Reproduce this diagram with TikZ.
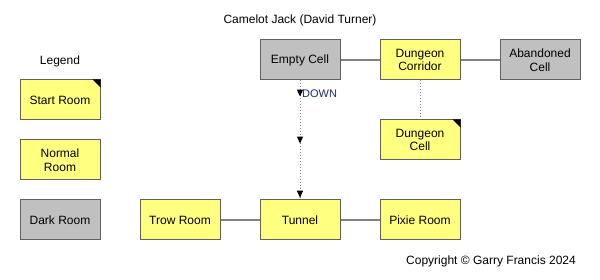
\documentclass[tikz,border=0pt]{standalone}
\usepackage{fontspec}
\setmainfont{Liberation Sans}
\usetikzlibrary{arrows.meta,decorations.markings}
\definecolor{roomyellow}{HTML}{FFFF80}
\definecolor{roomgray}{HTML}{C0C0C0}
\definecolor{roomborder}{HTML}{606060}
\definecolor{linkgray}{HTML}{808080}
\definecolor{downblue}{HTML}{1A2E70}
\tikzset{
  room/.style={draw=roomborder, line width=1pt, minimum width=80pt, minimum height=40pt,
    inner sep=0pt, align=center, font=\fontsize{12}{13.8}\selectfont},
  yroom/.style={room, fill=roomyellow},
  groom/.style={room, fill=roomgray},
  cornermark/.style={fill=black},
  link/.style={draw=linkgray, line width=1.2pt},
  dotlink/.style={draw=linkgray, line width=1pt, dotted},
  lbl/.style={font=\fontsize{12}{14}\selectfont, inner sep=0pt},
  downtip/.style={decoration={markings,
    mark=at position 0.135 with {\arrow[black]{Triangle[width=6pt,length=7pt]}},
    mark=at position 0.53 with {\arrow[black]{Triangle[width=6pt,length=7pt]}},
    mark=at position 0.985 with {\arrow[black]{Triangle[width=6pt,length=7pt]}}},
    postaction={decorate}}
}
\begin{document}
\begin{tikzpicture}[x=1pt,y=-1pt]
\useasboundingbox (0,0) rectangle (600,280);
\fill[white] (0,0) rectangle (600,280);
% titles
\node[lbl] (title) at (300,20) {Camelot Jack (David Turner)};
\node[lbl] (legend) at (60,61) {Legend};
\node[lbl, anchor=east] (copy) at (576,261) {Copyright © Garry Francis 2024};
% legend
\node[yroom] (ls) at (60,100) {Start Room};
\node[yroom] (ln) at (60,160) {Normal\\Room};
\node[groom] (ld) at (60,220) {Dark Room};
% rooms
\node[groom] (empty) at (300,60) {Empty Cell};
\node[yroom] (corr) at (420,60) {Dungeon\\Corridor};
\node[groom] (aband) at (540,60) {Abandoned\\Cell};
\node[yroom] (dcell) at (420,140) {Dungeon\\Cell};
\node[yroom] (trow) at (180,220) {Trow Room};
\node[yroom] (tunnel) at (300,220) {Tunnel};
\node[yroom] (pixie) at (420,220) {Pixie Room};
% start-room corner marks
\fill[cornermark] (ls.north east) -- ++(-8,0) -- ++(8,8) -- cycle;
\fill[cornermark] (dcell.north east) -- ++(-8,0) -- ++(8,8) -- cycle;
% connectors
\draw[link] (empty) -- (corr);
\draw[link] (corr) -- (aband);
\draw[link] (trow) -- (tunnel);
\draw[link] (tunnel) -- (pixie);
\draw[dotlink] (corr) -- (dcell);
\draw[dotlink, downtip] (empty.south) -- (tunnel.north);
\node[font=\fontsize{11}{12}\selectfont, text=downblue, inner sep=0pt, anchor=west] (down) at (302,94) {DOWN};
\end{tikzpicture}
\end{document}
